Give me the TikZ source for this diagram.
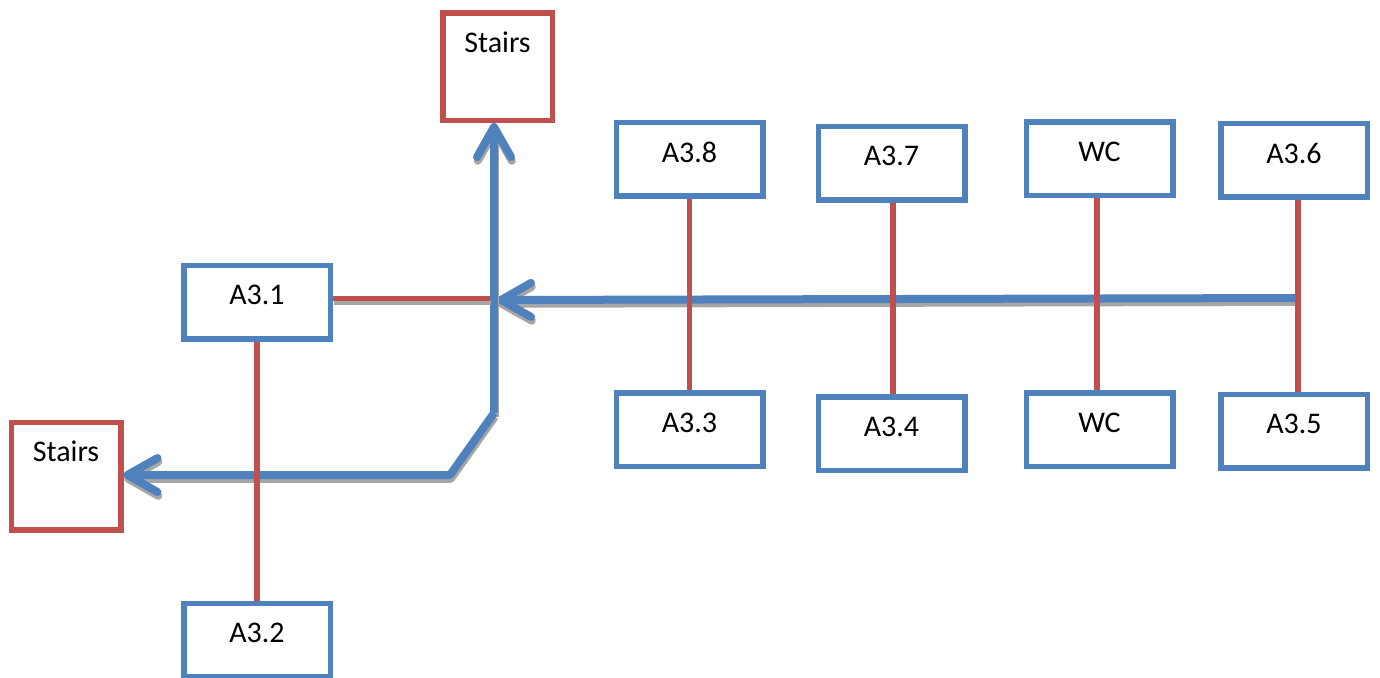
\documentclass[tikz,border=0pt]{standalone}
\usepackage{fontspec}
\setmainfont{Carlito}
\usetikzlibrary{arrows.meta,calc}
\definecolor{roomblue}{HTML}{4F81BD}
\definecolor{stairred}{HTML}{C0504D}
\definecolor{shade}{HTML}{A6A6A6}
% draw a path twice: a grey drop shadow first, then the path itself
\newcommand\shadowdraw[2]{%
  \draw[#1, draw=shade, transform canvas={xshift=0.4pt, yshift=-1.9pt}] #2;
  \draw[#1] #2;}
\begin{document}
\begin{tikzpicture}[x=0.5pt,y=-0.5pt,
  labelfont/.style={font=\fontsize{15}{17}\selectfont},
  room/.style={draw=roomblue, line width=2.75pt, minimum width=73.25pt,
    minimum height=36.75pt, inner sep=0pt, text depth=7pt, labelfont},
  stairbox/.style={draw=stairred, line width=2.75pt, minimum width=54.75pt,
    minimum height=53.75pt, inner sep=0pt,
    label={[anchor=base, yshift=-21pt, labelfont]north:#1}},
  flow/.style={draw=roomblue, line width=4pt, line join=round,
    -{Straight Barb[length=15pt, width=17pt, line cap=round, line join=round]}},
  link/.style={draw=stairred, line width=2.75pt},
]
\useasboundingbox (0,0) rectangle (1380,677);

% stairwells
\node[stairbox=Stairs] (stairsTop) at (497.5,66.5) {};
\node[stairbox=Stairs] (stairsLeft) at (66,476) {};

% rooms
\node[room] (a31) at (257,302) {A3.1};
\node[room] (a32) at (257,640) {A3.2};
\node[room] (a38) at (689.5,159) {A3.8};
\node[room] (a37) at (891.5,163) {A3.7};
\node[room] (wcT) at (1099.5,158.5) {WC};
\node[room] (a36) at (1294,160) {A3.6};
\node[room] (a33) at (689.5,429.5) {A3.3};
\node[room] (a34) at (891.5,433.5) {A3.4};
\node[room] (wcB) at (1099.5,429.5) {WC};
\node[room] (a35) at (1294,431) {A3.5};

% escape route points
\coordinate (corridorStart) at (1297,298);
\coordinate (corridorEnd) at (497,300);
\coordinate (spineBase) at (494,413);
\coordinate (elbow) at (450,475);
\coordinate (spurEnd) at (490,298.5);

% escape routes
\shadowdraw{flow}{(corridorStart) -- (corridorEnd)}
\shadowdraw{flow}{(spineBase) -- (spineBase |- stairsTop.south)}
\shadowdraw{flow}{(spineBase) -- (elbow) -- (stairsLeft.east |- elbow)}

% door links
\shadowdraw{link}{(a31.east |- spurEnd) -- (spurEnd)}
\draw[link] (a31.south) -- (a32.north);
\draw[link] (a38.south) -- (a33.north);
\draw[link] ([xshift=0.75pt]a37.south) -- ([xshift=0.75pt]a34.north);
\draw[link] ([xshift=-1.25pt]wcT.south) -- ([xshift=-1.25pt]wcB.north);
\draw[link] ([xshift=2pt]a36.south) -- ([xshift=2pt]a35.north);
\end{tikzpicture}
\end{document}
